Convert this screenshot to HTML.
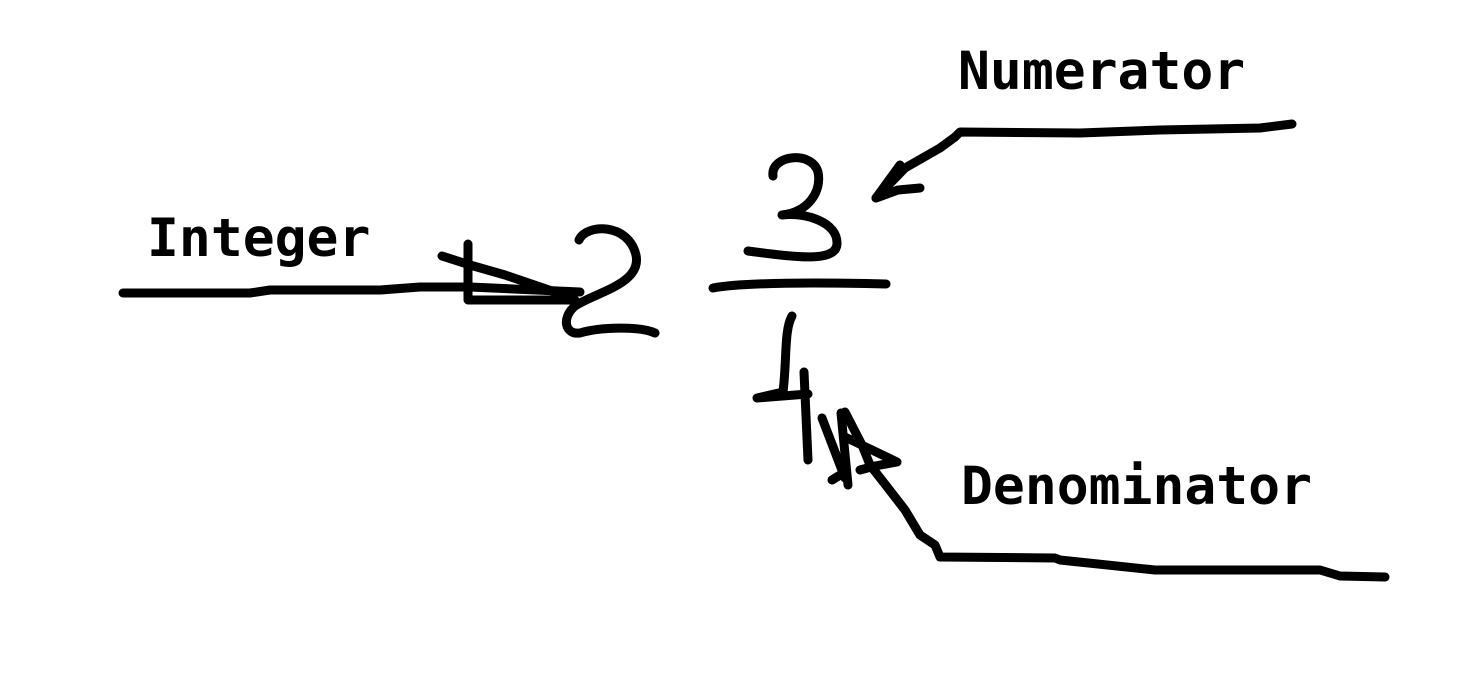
<!DOCTYPE html>
<html><head><meta charset="utf-8"><style>
html,body{margin:0;padding:0;background:#fff;width:1462px;height:676px;overflow:hidden}
svg{display:block}
text{font-family:"DejaVu Sans Mono","Liberation Mono",monospace;font-weight:bold;font-size:53px;fill:#000}
</style></head><body>
<svg width="1462" height="676" viewBox="0 0 1462 676">
<g fill="none" stroke="#000" stroke-width="9" stroke-linecap="round" stroke-linejoin="round">
<path d="M123,293 L250,293 L270,290 L380,290 L420,287 L470,287 L580,292"/>
<path d="M442,256 L470,265 L505,275 L555,292"/>
<path d="M468,244 L468,300 L575,300"/>
<path d="M579,240 C586,224 628,222 636,255 C642,284 596,292 575,306 C561,318 565,335 580,333 C600,327 640,326 655,333"/>
<path d="M773,176 C770,155 812,150 818,172 C822,192 808,212 782,215 C805,212 838,222 837,244 C836,262 800,258 748,251"/>
<path d="M713,288 C740,283 800,282 886,284"/>
<path d="M792,316 C784,330 787,360 783,392 L757,398 L808,394"/>
<path d="M804,372 L808,460"/>
<path d="M1292,124 L1260,128 L1160,130 L1080,133 L960,132 L955,137 L940,148 L905,168 L876,198"/>
<path d="M900,165 L876,198 L898,190 L920,188"/>
<path d="M1385,577 L1340,576 L1320,570 L1155,570 L1060,560 L1055,558 L940,557 L935,545 L920,535 L905,510 L888,488 L870,465 L862,445 L845,412"/>
<path d="M822,418 L845,478"/>
<path d="M841,413 L848,485"/>
<path d="M845,437 L897,462 L875,466 L860,470"/>
<path d="M832,480 L845,472"/>
</g>
<text x="958" y="89">Numerator</text>
<text x="147" y="256">Integer</text>
<text x="961" y="504">Denominator</text>
</svg>
</body></html>
